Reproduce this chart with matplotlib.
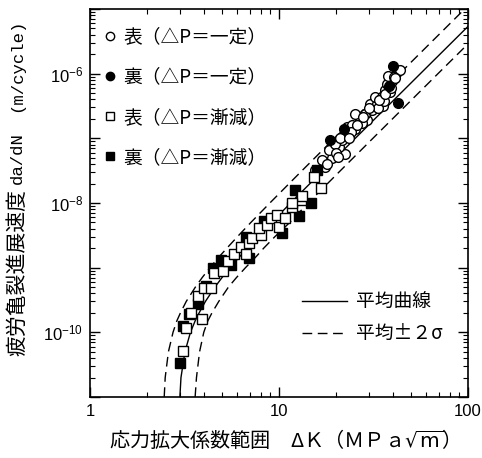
"""
Fatigue crack growth rate da/dN vs stress intensity factor range (log-log)
"""

import numpy as np
import matplotlib
matplotlib.use('Agg')
import matplotlib.pyplot as plt
from matplotlib.lines import Line2D
from matplotlib.ticker import LogLocator, NullFormatter

plt.rcParams['font.family'] = ['Liberation Sans', 'Noto Sans CJK JP']
plt.rcParams['mathtext.default'] = 'regular'

JP = ['Noto Sans CJK JP', 'DejaVu Sans']

# 表 (ΔP=一定) - open circles
front_const_dk = [17.6, 19.1, 22.4, 20.7, 21.5, 22.9, 22.9, 25.3, 26.9, 29.2, 28.6, 31.0, 30.4,
                  32.9, 35.7, 32.3, 35.0, 36.4, 38.7, 37.2, 39.5, 37.9, 42.0, 43.5, 38.7, 18.3,
                  19.9, 16.9, 25.3, 27.4, 24.3, 15.6, 33.5, 28.0, 24.0, 20.0, 40.5, 36.0,
                  18.0, 21.0, 23.5, 26.0, 30.0, 34.0, 36.5, 39.0, 41.0, 20.5]
front_const_dadn = [3.6e-8, 4.9e-8, 5.8e-8, 7.4e-8, 9.3e-8, 1.18e-7, 1.5e-7, 1.4e-7, 1.9e-7, 1.9e-7,
                    2.4e-7, 2.7e-7, 3.4e-7, 3.4e-7, 3.2e-7, 4.3e-7, 4.3e-7, 5.5e-7, 5.2e-7, 6.9e-7,
                    7.8e-7, 9.3e-7, 1.05e-6, 1.15e-6, 6.2e-7, 6.6e-8, 8.3e-8, 4.6e-8, 2.4e-7, 1.7e-7,
                    1.6e-7, 3.2e-8, 2.9e-7, 2.1e-7, 1.25e-7, 6.0e-8, 9.0e-7, 3.8e-7,
                    4.0e-8, 1.0e-7, 1.0e-7, 1.6e-7, 2.9e-7, 3.9e-7, 4.8e-7, 6.0e-7, 8.5e-7, 5.2e-8]

# 裏 (ΔP=一定) - filled circles
back_const_dk = [22.0, 18.7, 40.3, 42.8, 38.0]
back_const_dadn = [1.4e-7, 9.3e-8, 1.3e-6, 3.5e-7, 6.5e-7]

# 表 (ΔP=漸減) - open squares
front_dec_dk = [3.10, 3.23, 3.43, 3.90, 3.72, 4.03, 4.37, 4.55, 5.03, 5.35, 5.80, 6.29, 6.68, 6.95,
                7.23, 8.01, 7.85, 8.68, 9.04, 10.0, 9.80, 10.8, 11.7, 13.0, 16.6, 15.3, 13.3, 11.7]
front_dec_dadn = [5.2e-11, 1.15e-10, 2.0e-10, 1.6e-10, 3.6e-10, 4.9e-10, 4.9e-10, 8.3e-10, 8.8e-10,
                  1.25e-9, 1.6e-9, 2.1e-9, 1.6e-9, 2.4e-9, 2.9e-9, 3.2e-9, 4.1e-9, 4.6e-9, 5.8e-9,
                  4.3e-9, 6.5e-9, 5.8e-9, 8.8e-9, 1.1e-8, 1.7e-8, 2.5e-8, 1.3e-8, 1.0e-8]

# 裏 (ΔP=漸減) - filled squares
back_dec_dk = [2.98, 3.10, 3.36, 3.72, 4.11, 4.46, 4.93, 5.57, 6.68, 6.95, 8.34, 10.4, 12.2, 12.7,
               14.7, 15.9]
back_dec_dadn = [3.4e-11, 1.26e-10, 1.9e-10, 2.7e-10, 5.2e-10, 1.0e-9, 1.3e-9, 1.1e-9, 3.0e-9,
                 1.4e-9, 5.2e-9, 3.4e-9, 1.6e-8, 6.2e-9, 1.0e-8, 3.2e-8]

# curves
curve_dadn = [1e-11, 2e-11, 5e-11, 1e-10, 1.5e-10, 2e-10, 3e-10, 5e-10, 7e-10, 1e-9, 1.5e-9,
              2e-9, 3e-9, 5e-9, 1e-8, 3e-8, 1e-7, 1e-6, 1e-5]
mean_dk = [2.99, 3.03, 3.18, 3.40, 3.60, 3.78, 4.08, 4.58, 4.99, 5.51, 6.22, 6.79, 7.73, 9.14,
           11.52, 16.76, 25.33, 56.0, 123.9]
upper_dk = [2.47, 2.50, 2.60, 2.75, 2.88, 3.01, 3.23, 3.61, 3.92, 4.31, 4.85, 5.30, 6.02, 7.10,
            8.95, 13.0, 19.66, 43.45, 96.1]
lower_dk = [3.60, 3.66, 3.80, 4.00, 4.20, 4.42, 4.80, 5.40, 5.95, 6.65, 7.60, 8.30, 9.50, 11.4,
            14.27, 20.76, 31.4, 69.4, 153.6]

DASH = (0, (7, 4))

fig = plt.figure(figsize=(4.82, 4.58), dpi=100)
ax = fig.add_axes([0.1867, 0.1332, 0.7842, 0.8472])

ax.plot(mean_dk, curve_dadn, color='black', lw=1.0, zorder=2)
ax.plot(upper_dk, curve_dadn, color='black', lw=1.0, ls=DASH, zorder=2)
ax.plot(lower_dk, curve_dadn, color='black', lw=1.0, ls=DASH, zorder=2)

ms = 7
ax.plot(front_const_dk, front_const_dadn, 'o', ms=ms, mfc='white', mec='black', mew=1.0, zorder=3)
ax.plot(back_const_dk, back_const_dadn, 'o', ms=ms, mfc='black', mec='black', mew=1.0, zorder=4)
ax.plot(back_dec_dk, back_dec_dadn, 's', ms=ms - 0.5, mfc='black', mec='black', mew=1.0, zorder=3)
ax.plot(front_dec_dk, front_dec_dadn, 's', ms=ms - 0.5, mfc='white', mec='black', mew=1.0, zorder=4)

ax.set_xscale('log')
ax.set_yscale('log')
ax.set_xlim(1, 100)
ax.set_ylim(1e-11, 1e-5)

ax.set_xticks([1, 10, 100], ['1', '10', '100'])
ax.set_yticks([1e-11, 1e-10, 1e-9, 1e-8, 1e-7, 1e-6, 1e-5],
              ['', '$10^{-10}$', '', '$10^{-8}$', '', '$10^{-6}$', ''])
ax.xaxis.set_minor_locator(LogLocator(base=10, subs=np.arange(2, 10), numticks=20))
ax.yaxis.set_minor_locator(LogLocator(base=10, subs=np.arange(2, 10), numticks=20))
ax.xaxis.set_minor_formatter(NullFormatter())
ax.yaxis.set_minor_formatter(NullFormatter())
ax.tick_params(which='both', direction='in', top=True, right=True, labelsize=12)
ax.tick_params(which='major', length=7, width=1.0, pad=5)
ax.tick_params(which='minor', length=3.5, width=0.8)
for sp in ax.spines.values():
    sp.set_linewidth(1.2)

# marker legend (upper left)
mk_handles = [
    Line2D([], [], ls='none', marker='o', ms=6, mfc='white', mec='black', mew=1.0),
    Line2D([], [], ls='none', marker='o', ms=6, mfc='black', mec='black', mew=1.0),
    Line2D([], [], ls='none', marker='s', ms=5.5, mfc='white', mec='black', mew=1.0),
    Line2D([], [], ls='none', marker='s', ms=5.5, mfc='black', mec='black', mew=1.0),
]
mk_labels = ['表（△P＝一定）', '裏（△P＝一定）', '表（△P＝漸減）', '裏（△P＝漸減）']
leg1 = ax.legend(mk_handles, mk_labels, loc='upper left', bbox_to_anchor=(0.03, 0.955),
                 frameon=False, borderpad=0, borderaxespad=0, handlelength=0.9,
                 handletextpad=0.3, labelspacing=1.02, prop={'family': JP, 'size': 13.5})
ax.add_artist(leg1)

# curve legend (lower right)
ln_handles = [
    Line2D([], [], color='black', lw=1.0),
    Line2D([], [], color='black', lw=1.0, ls=DASH),
]
ln_labels = ['平均曲線', '平均±２σ']
ax.legend(ln_handles, ln_labels, loc='upper left', bbox_to_anchor=(0.56, 0.272),
          frameon=False, borderpad=0, borderaxespad=0, handlelength=2.4,
          handletextpad=0.5, labelspacing=0.57, prop={'family': JP, 'size': 13.5})

# axis labels
fig.text(0.5 + 0.079, 1 - 440 / 458, '応力拡大係数範囲　ΔＫ（ＭＰａ$\\sqrt{\\mathrm{m}}$）',
         ha='center', va='center', fontsize=14.5, family=JP)
fig.text(17 / 482, 1 - 272 / 458, '疲労亀裂進展速度', rotation=90,
         ha='center', va='center', fontsize=15, family=JP)
fig.text(17 / 482, 1 - 158 / 458, 'da/dN', rotation=90,
         ha='center', va='center', fontsize=12.5, family=['Liberation Mono', 'DejaVu Sans Mono'])
fig.text(17 / 482, 1 - 65 / 458, '(m/cycle)', rotation=90,
         ha='center', va='center', fontsize=12.5, family=['Liberation Mono', 'DejaVu Sans Mono'])

fig.savefig('out.png', dpi=100)
